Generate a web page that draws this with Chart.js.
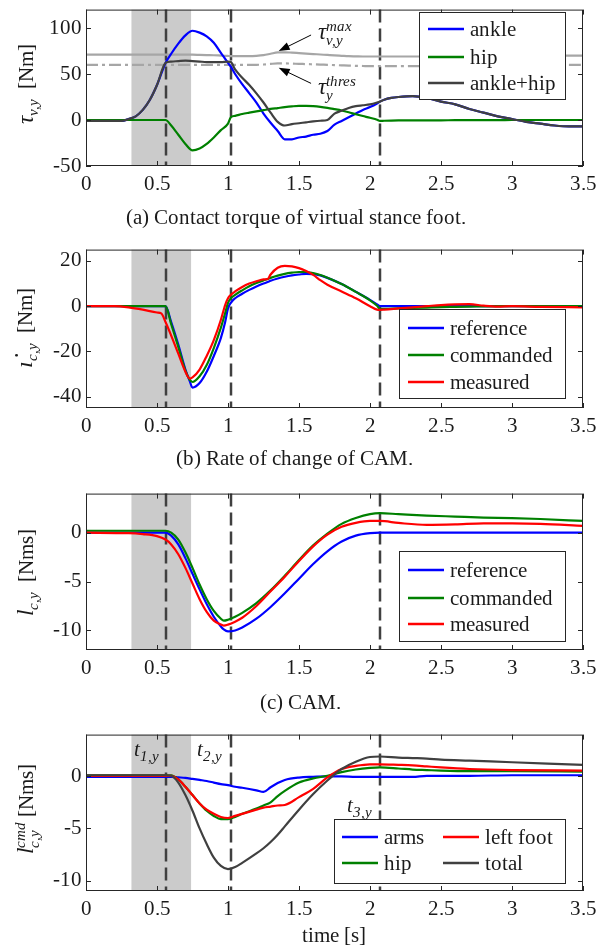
<!DOCTYPE html>
<html>
<head>
<meta charset="utf-8">
<script src="https://cdn.jsdelivr.net/npm/chart.js@4.4.0/dist/chart.umd.min.js"></script>
<style>
@font-face { font-family: 'FigSerif'; src: local('Liberation Serif'), local('LiberationSerif'), local('Liberation Serif Regular'); font-style: normal; font-weight: 400; }
@font-face { font-family: 'FigSerif'; src: local('Liberation Serif Italic'), local('LiberationSerif-Italic'); font-style: italic; font-weight: 400; }
body { margin: 0; background: #fff; width: 613px; height: 948px; position: relative; overflow: hidden;
       font-family: 'FigSerif', 'Liberation Serif', serif; color: #1a1a1a; }
canvas { position: absolute; left: 0; z-index: 1; }
.cap, .ylab, .note { z-index: 2; }
.cap { position: absolute; width: 420px; margin-left: -210px; text-align: center; font-size: 21px; line-height: 21px; white-space: nowrap; }
.ylab { position: absolute; white-space: nowrap; font-size: 21px; line-height: 21px; transform: translate(-50%, -50%) rotate(-90deg); }
.note { position: absolute; white-space: nowrap; font-size: 21px; line-height: 21px; }
.mi { font-style: italic; }
.sb { font-style: italic; font-size: 15px; position: relative; top: 5px; }
.stk { display: inline-block; vertical-align: -6px; line-height: 14px; font-size: 15px; font-style: italic; }
.stk span { display: block; }
</style>
</head>
<body>
<div class="cap" style="left:296px;top:207px">(a) Contact torque of virtual stance foot.</div>
<div class="cap" style="left:294px;top:448px">(b) Rate of change of CAM.</div>
<div class="cap" style="left:300px;top:692px">(c) CAM.</div>
<div class="cap" style="left:334px;top:925px">time [s]</div>

<div class="ylab" style="left:27px;top:84px"><span class="mi" style="font-size:23px">τ</span><span class="sb">v,y</span>&nbsp;&nbsp;[Nm]</div>
<div class="ylab" style="left:25px;top:328px"><span class="mi" style="font-size:25px">ı̇</span><span class="sb">c,y</span>&nbsp;&nbsp;[Nm]</div>
<div class="ylab" style="left:27px;top:572px"><span class="mi" style="font-size:23px">l</span><span class="sb">c,y</span>&nbsp;&nbsp;[Nms]</div>
<div class="ylab" style="left:27px;top:809px"><span class="mi" style="font-size:23px">l</span><span class="stk"><span>cmd</span><span>c,y</span></span>&nbsp;[Nms]</div>

<div class="note" style="left:318px;top:19px"><span class="mi" style="font-size:23px">τ</span><span class="stk"><span>max</span><span>v,y</span></span></div>
<div class="note" style="left:318px;top:74px"><span class="mi" style="font-size:23px">τ</span><span class="stk"><span>thres</span><span>y</span></span></div>
<div class="note" style="left:134px;top:739px"><span class="mi">t</span><span class="sb">1,y</span></div>
<div class="note" style="left:197px;top:739px"><span class="mi">t</span><span class="sb">2,y</span></div>
<div class="note" style="left:347px;top:795px"><span class="mi">t</span><span class="sb">3,y</span></div>

<script>
// shared x axis
const xTicks = [0, 0.5, 1, 1.5, 2, 2.5, 3, 3.5];
const shadeFrom = 0.32, shadeTo = 0.74;
const eventTimes = [0.56, 1.02, 2.07];

// (a) contact torque
const tA = [0, 0.25, 0.3, 0.35, 0.4, 0.45, 0.5, 0.56, 0.6, 0.65, 0.7, 0.75, 0.8, 0.85, 0.9, 0.95, 1.0, 1.02,
  1.05, 1.1, 1.15, 1.2, 1.25, 1.3, 1.35, 1.4, 1.45, 1.5, 1.55, 1.6, 1.65, 1.7, 1.75, 1.8, 1.85, 1.9, 1.95, 2.0,
  2.05, 2.07, 2.1, 2.15, 2.2, 2.3, 2.4, 2.5, 2.6, 2.7, 2.8, 2.9, 3.0, 3.1, 3.2, 3.3, 3.4, 3.5];
const ankle = [-1, -1, 1, 4, 11, 22, 38, 62, 72, 83, 92, 97, 95, 91, 84, 73, 62, 58,
  50, 39, 29, 19, 7, -3, -12, -21, -21, -19, -18, -16, -15, -12, -5, -1, 3, 7, 11, 14,
  18, 20, 22, 24, 25, 26, 24, 20, 17, 12, 8, 4, 1, -2, -4, -6, -7, -7];
const hip = [0, 0, 0, 0, 0, 0, 0, 0, -6, -16, -26, -33, -31, -26, -19, -11, -4, 3,
  4.5, 6.5, 8, 9.4, 10.7, 12, 13, 14, 14.8, 15.3, 15.3, 15, 14.3, 13.2, 11.8, 10.3, 8.4, 6.3, 4.3, 2.4,
  0.3, -1, -0.8, -0.6, -0.5, -0.4, -0.3, -0.3, -0.2, -0.2, -0.1, -0.1, 0, 0, 0, 0, 0, 0];
const ankleHip = [-1, -1, 1, 4, 11, 22, 38, 62, 63.5, 64, 64.5, 64, 63.5, 63, 63, 63, 63.5, 63,
  55, 46, 38, 29, 19, 8, -2, -6, -4.5, -3.5, -2.5, -1.5, -0.8, 0, 7, 10, 13, 15, 16, 17,
  19, 20, 22, 24, 25, 26, 24, 20, 17, 12, 8, 4, 1, -2, -4, -6, -7, -7];
const tauMax = [71, 71, 71, 71, 71, 71, 71, 71, 71, 71, 71, 71, 70.8, 70.6, 70.4, 70, 69.6, 69.5,
  69.5, 69.5, 69.5, 69.8, 70.5, 72, 73.5, 73.6, 73.2, 72.7, 72.2, 71.7, 71.2, 70.7, 70.2, 69.8, 69.4, 69.2, 69, 69,
  69, 69, 69, 69, 69, 69, 69, 69, 69.2, 69.4, 69.6, 69.8, 70, 70, 70, 70, 70, 70];
const tauThres = [60, 60, 60, 60, 60, 60, 60, 60, 60, 60, 60, 60, 60, 60, 60, 60, 60, 60,
  60, 60, 60, 60, 60.3, 61, 61.5, 61.5, 61.3, 61, 60.8, 60.5, 60.2, 60, 59.7, 59.4, 59.1, 58.9, 58.7, 58.5,
  58.5, 58.5, 58.5, 58.5, 58.5, 58.5, 58.6, 58.8, 59, 59.2, 59.4, 59.6, 59.8, 60, 60, 60, 60, 60];
const yTicksA = [-50, 0, 50, 100];

// (b) rate of change of CAM
const tB = [0, 0.2, 0.3, 0.4, 0.5, 0.53, 0.56, 0.6, 0.65, 0.7, 0.73, 0.75, 0.8, 0.85, 0.9, 0.95, 0.98,
  1.0, 1.02, 1.05, 1.1, 1.15, 1.2, 1.25, 1.28, 1.3, 1.35, 1.4, 1.45, 1.5, 1.55, 1.6, 1.65, 1.7, 1.8, 1.9, 2.0,
  2.05, 2.07, 2.1, 2.2, 2.3, 2.4, 2.5, 2.6, 2.7, 2.8, 2.9, 3.0, 3.2, 3.5];
const refB = [0, 0, 0, 0, 0, 0, 0, -7, -17, -28, -33, -36, -34, -29, -22, -14, -7,
  -1, 1.5, 3.5, 5.5, 7.2, 8.7, 10, 10.7, 11.2, 12.2, 13, 13.6, 14, 14.3, 14.2, 13.6, 12.5, 9.8, 6.4, 2.8,
  0.8, 0, 0, 0, 0, 0, 0, 0, 0, 0, 0, 0, 0, 0];
const cmdB = [0, 0, 0, 0, 0, 0, 0, -8, -18, -28.5, -32.5, -33.5, -31, -26, -18.5, -9.5, -3,
  1.5, 3.5, 5, 7, 8.8, 10.2, 11.4, 12, 12.5, 13.5, 14.3, 14.8, 15.1, 15.1, 14.6, 13.8, 12.6, 9.8, 6.3, 2.6,
  0.2, -1.2, -1.2, -1, -0.8, -0.6, -0.4, -0.3, -0.2, -0.1, 0, 0, 0, 0];
const measB = [0, 0, -0.5, -1.5, -2.8, -3.2, -7, -13, -21, -29, -32, -31.5, -28, -22, -15, -6, 0.5,
  3.5, 5, 6.5, 8.5, 10, 11, 11.8, 12, 14, 17, 17.8, 17.6, 16.8, 15.5, 13.8, 11.5, 9.5, 6.5, 3.5, 0,
  -1.5, -1.6, -1.5, -1, -0.5, 0, 0.5, 0.8, 0.9, 0.2, -0.2, 0, -0.3, -0.5];
const yTicksB = [-40, -20, 0, 20];

// (c) CAM
const tC = [0, 0.3, 0.4, 0.5, 0.56, 0.6, 0.65, 0.7, 0.75, 0.8, 0.85, 0.9, 0.95, 0.97, 1.0, 1.05, 1.1,
  1.2, 1.3, 1.4, 1.5, 1.6, 1.7, 1.8, 1.9, 2.0, 2.07, 2.2, 2.4, 2.6, 2.8, 3.0, 3.2, 3.5];
const refC = [0, 0, 0, 0, 0, -0.3, -1.2, -2.6, -4.2, -5.8, -7.3, -8.6, -9.6, -9.9, -10.1, -10.0, -9.7,
  -8.8, -7.6, -6.2, -4.7, -3.2, -1.9, -0.9, -0.3, -0.05, 0, 0, 0, 0, 0, 0, 0, 0];
const cmdC = [0.2, 0.2, 0.2, 0.2, 0.2, 0, -0.7, -2, -3.6, -5.3, -6.8, -8, -8.8, -9, -8.9, -8.6, -8.2,
  -7.2, -5.9, -4.4, -2.8, -1.3, -0.1, 0.9, 1.5, 1.9, 2.0, 1.9, 1.75, 1.65, 1.55, 1.5, 1.4, 1.2];
const measC = [0, -0.05, -0.15, -0.35, -0.7, -1.2, -2.2, -3.6, -5.2, -6.8, -8.1, -9, -9.4, -9.5, -9.4, -9.1, -8.7,
  -7.5, -6.0, -4.5, -2.9, -1.4, -0.2, 0.6, 1.0, 1.2, 1.2, 1.0, 0.8, 0.85, 0.95, 0.95, 0.9, 0.7];
const yTicksC = [-10, -5, 0];

// (d) commanded CAM split
const tD = [0, 0.56, 0.6, 0.65, 0.7, 0.75, 0.8, 0.85, 0.9, 0.95, 1.0, 1.05, 1.1, 1.2, 1.25, 1.3,
  1.35, 1.4, 1.5, 1.6, 1.7, 1.8, 1.9, 2.0, 2.07, 2.2, 2.3, 2.4, 2.5, 2.7, 3.0, 3.5];
const armsD = [-0.05, -0.05, -0.05, -0.1, -0.15, -0.25, -0.35, -0.45, -0.6, -0.75, -0.85, -1.0, -1.1, -1.35, -1.5, -1.05,
  -0.65, -0.35, -0.12, -0.05, 0, 0, -0.05, -0.05, -0.05, -0.05, -0.05, 0.05, 0.05, 0.05, 0.1, 0.1];
const hipD = [0.1, 0.1, 0.1, -0.3, -1.0, -1.8, -2.6, -3.3, -3.8, -4.1, -4.1, -3.9, -3.6, -3.1, -2.8, -2.5,
  -1.9, -1.4, -0.6, -0.2, 0.05, 0.4, 0.65, 0.8, 0.85, 0.75, 0.65, 0.6, 0.55, 0.5, 0.5, 0.45];
const footD = [0.05, 0.05, 0.05, -0.3, -1.0, -1.8, -2.6, -3.2, -3.6, -3.9, -4.0, -3.8, -3.6, -3.2, -3.0, -2.9,
  -2.8, -2.75, -2.0, -1.2, -0.1, 0.7, 1.0, 1.15, 1.15, 1.1, 1.05, 0.95, 0.85, 0.7, 0.6, 0.55];
const totalD = [0.1, 0.1, 0.05, -0.6, -1.8, -3.3, -5.0, -6.5, -7.8, -8.6, -8.9, -8.7, -8.3, -7.4, -6.9, -6.3,
  -5.6, -4.8, -3.2, -1.7, -0.4, 0.7, 1.4, 1.85, 1.9, 1.8, 1.75, 1.7, 1.6, 1.5, 1.35, 1.1];
const yTicksD = [-10, -5, 0];

const BLUE = '#0000ff', GREEN = '#008000', RED = '#ff0000', DARK = '#404040', LIGHT = '#a6a6a6';
const FONT = "FigSerif, 'Liberation Serif', serif";
const TXT = '#1a1a1a';

function decor(p, off) {
  return {
    id: 'decor',
    beforeDatasetsDraw(chart) {
      const {ctx, chartArea: a, scales: {x}} = chart;
      ctx.save();
      const x0 = x.getPixelForValue(shadeFrom), x1 = x.getPixelForValue(shadeTo);
      ctx.fillStyle = '#cbcbcb';
      ctx.fillRect(x0, a.top, x1 - x0, a.bottom - a.top);
      ctx.strokeStyle = DARK;
      ctx.lineWidth = 2.5;
      ctx.setLineDash([13, 6]);
      eventTimes.forEach(t => {
        const px = Math.round(x.getPixelForValue(t));
        ctx.beginPath(); ctx.moveTo(px, a.top); ctx.lineTo(px, a.bottom); ctx.stroke();
      });
      ctx.restore();
    },
    afterDraw(chart) {
      const {ctx, chartArea: a, scales: {x, y}} = chart;
      ctx.save();
      // axes box with inward ticks
      ctx.strokeStyle = '#262626';
      ctx.lineWidth = 1;
      ctx.strokeRect(a.left + 0.5, a.top + 0.5, a.right - a.left - 1, a.bottom - a.top - 1);
      ctx.beginPath();
      xTicks.forEach(v => {
        const px = Math.round(x.getPixelForValue(v)) + 0.5;
        ctx.moveTo(px, a.bottom); ctx.lineTo(px, a.bottom - 5);
        ctx.moveTo(px, a.top); ctx.lineTo(px, a.top + 5);
      });
      p.yTicks.forEach(v => {
        const py = Math.round(y.getPixelForValue(v)) + 0.5;
        ctx.moveTo(a.left, py); ctx.lineTo(a.left + 5, py);
        ctx.moveTo(a.right, py); ctx.lineTo(a.right - 5, py);
      });
      ctx.stroke();

      // annotation arrows (data coordinates)
      (p.arrows || []).forEach(ar => {
        const fx = x.getPixelForValue(ar.from[0]), fy = y.getPixelForValue(ar.from[1]);
        const tx = x.getPixelForValue(ar.to[0]), ty = y.getPixelForValue(ar.to[1]);
        const ang = Math.atan2(ty - fy, tx - fx);
        ctx.strokeStyle = '#000'; ctx.fillStyle = '#000'; ctx.lineWidth = 1;
        ctx.beginPath(); ctx.moveTo(fx, fy); ctx.lineTo(tx - 8 * Math.cos(ang), ty - 8 * Math.sin(ang)); ctx.stroke();
        ctx.beginPath();
        ctx.moveTo(tx, ty);
        ctx.lineTo(tx - 11 * Math.cos(ang) + 4 * Math.sin(ang), ty - 11 * Math.sin(ang) - 4 * Math.cos(ang));
        ctx.lineTo(tx - 11 * Math.cos(ang) - 4 * Math.sin(ang), ty - 11 * Math.sin(ang) + 4 * Math.cos(ang));
        ctx.closePath(); ctx.fill();
      });

      // legend box
      const lg = p.legend;
      const [bx0, by0, bx1, by1] = lg.box;
      ctx.fillStyle = '#fff';
      ctx.fillRect(bx0, by0 - off, bx1 - bx0, by1 - by0);
      ctx.strokeStyle = '#262626';
      ctx.strokeRect(bx0 + 0.5, by0 - off + 0.5, bx1 - bx0, by1 - by0);
      ctx.font = '21px ' + FONT;
      ctx.textBaseline = 'middle';
      lg.items.forEach(it => {
        const s = p.series.find(q => q.label === it.label);
        ctx.strokeStyle = s.color; ctx.lineWidth = 2.5; ctx.setLineDash([]);
        ctx.beginPath(); ctx.moveTo(it.x, it.y - off); ctx.lineTo(it.x + 36, it.y - off); ctx.stroke();
        ctx.fillStyle = TXT;
        ctx.fillText(it.label, it.x + 42, it.y - off + 1);
      });
      ctx.restore();
    }
  };
}

function panelChart(p) {
  const pad = 10, below = 45;
  const cv = document.createElement('canvas');
  const off = p.top - pad;
  cv.width = 613;
  cv.height = p.bottom - p.top + pad + below;
  cv.style.top = off + 'px';
  document.body.appendChild(cv);
  const font = {family: FONT, size: 21};
  new Chart(cv, {
    type: 'line',
    data: {
      datasets: p.series.map(s => ({
        label: s.label,
        data: p.t.map((t, i) => ({x: t, y: s.v[i]})),
        borderColor: s.color,
        borderWidth: 2.2,
        borderDash: s.dash || [],
        pointRadius: 0,
        fill: false,
        cubicInterpolationMode: 'monotone'
      }))
    },
    options: {
      responsive: false,
      animation: false,
      events: [],
      layout: {padding: {top: pad, right: 30, left: 0, bottom: 0}},
      plugins: {legend: {display: false}, tooltip: {enabled: false}},
      scales: {
        x: {
          type: 'linear', min: 0, max: 3.5,
          afterBuildTicks: s => { s.ticks = xTicks.map(v => ({value: v})); },
          afterFit: s => { s.height = below; },
          grid: {display: false, drawTicks: false},
          border: {display: false},
          ticks: {font, color: TXT, padding: 6, maxRotation: 0, autoSkip: false, callback: v => `${v}`}
        },
        y: {
          min: p.yMin, max: p.yMax,
          afterBuildTicks: s => { s.ticks = p.yTicks.map(v => ({value: v})); },
          afterFit: s => { s.width = 86; },
          grid: {display: false, drawTicks: false},
          border: {display: false},
          ticks: {font, color: TXT, padding: 4, callback: v => `${v}`}
        }
      }
    },
    plugins: [decor(p, off)]
  });
}

const lgRows3 = (x, ys, labels) => labels.map((l, i) => ({label: l, x: x, y: ys[i]}));

function drawAll() {
  panelChart({
    top: 3, bottom: 166, yMin: -50, yMax: 120, yTicks: yTicksA, t: tA,
    series: [
      {label: 'ankle+hip', v: ankleHip, color: DARK},
      {label: 'hip', v: hip, color: GREEN},
      {label: 'ankle', v: ankle, color: BLUE},
      {label: 'tauMax', v: tauMax, color: LIGHT},
      {label: 'tauThres', v: tauThres, color: LIGHT, dash: [12, 4, 3, 4]}
    ],
    arrows: [{from: [1.585, 92.4], to: [1.357, 75]}, {from: [1.585, 39.8], to: [1.357, 56.7]}],
    legend: {box: [419, 12, 565, 99], items: lgRows3(428, [29, 57, 83], ['ankle', 'hip', 'ankle+hip'])}
  });

  panelChart({
    top: 243, bottom: 408, yMin: -45, yMax: 25, yTicks: yTicksB, t: tB,
    series: [
      {label: 'measured', v: measB, color: RED},
      {label: 'commanded', v: cmdB, color: GREEN},
      {label: 'reference', v: refB, color: BLUE}
    ],
    legend: {box: [399, 309, 565, 398], items: lgRows3(408, [328, 355, 382], ['reference', 'commanded', 'measured'])}
  });

  panelChart({
    top: 487, bottom: 650, yMin: -12, yMax: 4, yTicks: yTicksC, t: tC,
    series: [
      {label: 'measured', v: measC, color: RED},
      {label: 'commanded', v: cmdC, color: GREEN},
      {label: 'reference', v: refC, color: BLUE}
    ],
    legend: {box: [399, 551, 565, 641], items: lgRows3(408, [570, 598, 624], ['reference', 'commanded', 'measured'])}
  });

  panelChart({
    top: 728, bottom: 891, yMin: -11, yMax: 4, yTicks: yTicksD, t: tD,
    series: [
      {label: 'total', v: totalD, color: DARK},
      {label: 'left foot', v: footD, color: RED},
      {label: 'hip', v: hipD, color: GREEN},
      {label: 'arms', v: armsD, color: BLUE}
    ],
    legend: {box: [334, 819, 565, 883], items: [
      {label: 'arms', x: 342, y: 837}, {label: 'left foot', x: 443, y: 837},
      {label: 'hip', x: 342, y: 863}, {label: 'total', x: 443, y: 863}
    ]}
  });
}

if (document.fonts && document.fonts.load) {
  Promise.all([document.fonts.load("21px FigSerif"), document.fonts.load("italic 21px FigSerif")])
    .then(drawAll, drawAll);
} else {
  drawAll();
}
</script>
</body>
</html>
